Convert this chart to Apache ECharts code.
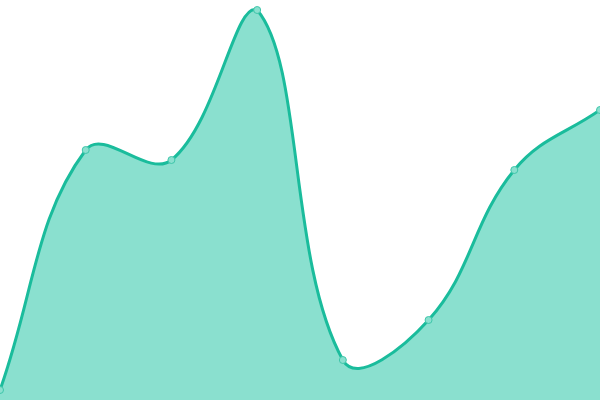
<!DOCTYPE html>
<html>
<head>
<meta charset="utf-8">
<script src="https://cdn.jsdelivr.net/npm/echarts@6/dist/echarts.min.js"></script>
<style>
  html, body { margin: 0; padding: 0; background: #fff; }
  #main { width: 600px; height: 400px; }
</style>
</head>
<body>
<div id="main"></div>
<script>
var categories = ['1', '2', '3', '4', '5', '6', '7', '8'];
var values = [10, 250, 240, 390, 40, 80, 230, 290];

var TENSION = 0.4;

// cardinal spline through the pixel points, control points kept inside the plot
function splinePath(pts, t, box) {
  var cap = function (p) {
    return [
      Math.min(Math.max(p[0], box.x), box.x + box.width),
      Math.min(Math.max(p[1], box.y), box.y + box.height)
    ];
  };
  var cps = pts.map(function (p, i) {
    var prev = pts[i - 1] || p;
    var next = pts[i + 1] || p;
    var d01 = Math.hypot(p[0] - prev[0], p[1] - prev[1]);
    var d12 = Math.hypot(next[0] - p[0], next[1] - p[1]);
    var s01 = d01 / (d01 + d12) || 0;
    var s12 = d12 / (d01 + d12) || 0;
    var fa = t * s01, fb = t * s12;
    return {
      prev: cap([p[0] - fa * (next[0] - prev[0]), p[1] - fa * (next[1] - prev[1])]),
      next: cap([p[0] + fb * (next[0] - prev[0]), p[1] + fb * (next[1] - prev[1])])
    };
  });
  var d = 'M' + pts[0][0] + ' ' + pts[0][1];
  for (var i = 1; i < pts.length; i++) {
    var a = cps[i - 1].next, b = cps[i].prev;
    d += ' C' + a[0] + ' ' + a[1] + ' ' + b[0] + ' ' + b[1] + ' ' + pts[i][0] + ' ' + pts[i][1];
  }
  return d;
}

function renderCurve(params, api) {
  if (params.dataIndex !== 0) return;
  var pts = values.map(function (v, i) { return api.coord([i, v]); });
  var base = api.coord([0, 0])[1];
  var box = params.coordSys;
  var line = splinePath(pts, TENSION, box);
  var area = line + ' L' + pts[pts.length - 1][0] + ' ' + base + ' L' + pts[0][0] + ' ' + base + ' Z';
  return {
    type: 'group',
    children: [
      { type: 'path', shape: { pathData: area }, style: { fill: '#8ae0cf', stroke: null } },
      { type: 'path', shape: { pathData: line }, style: { fill: null, stroke: '#1abc9c', lineWidth: 3 } }
    ]
  };
}

var chart = echarts.init(document.getElementById('main'));
chart.setOption({
  animation: false,
  grid: { left: 0, right: 0, top: 0, bottom: 0 },
  xAxis: {
    type: 'category',
    boundaryGap: false,
    data: categories,
    show: false
  },
  yAxis: {
    type: 'value',
    min: 0,
    max: 400,
    show: false
  },
  series: [{
    type: 'custom',
    renderItem: renderCurve,
    data: values.map(function (v, i) { return [i, v]; }),
    encode: { x: 0, y: 1 },
    z: 1
  }, {
    type: 'line',
    data: values,
    symbol: 'circle',
    symbolSize: 7,
    lineStyle: { width: 0 },
    itemStyle: { color: '#8ae0cf', borderColor: '#3fc6aa', borderWidth: 1 },
    z: 3
  }]
});
</script>
</body>
</html>
